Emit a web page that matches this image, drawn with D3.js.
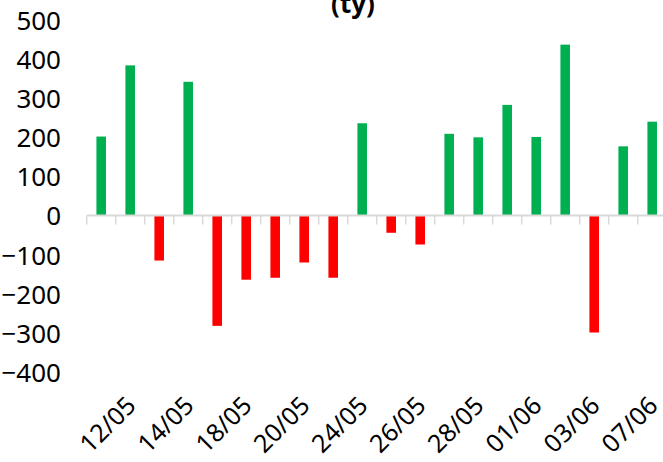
<!DOCTYPE html>
<html>
<head>
<meta charset="utf-8">
<script src="https://cdn.jsdelivr.net/npm/d3@7"></script>
<style>
  html, body { margin: 0; padding: 0; background: #ffffff; }
  svg { display: block; }
  text { font-family: "Noto Sans", "Open Sans", sans-serif; }
</style>
</head>
<body>
<svg id="chart" width="663" height="462"></svg>
<script>
const categories = ["11/05","12/05","13/05","14/05","17/05","18/05","19/05","20/05","21/05","24/05",
                    "25/05","26/05","27/05","28/05","31/05","01/06","02/06","03/06","04/06","07/06"];
const values = [202, 384, -115, 342, -282, -164, -159, -120, -159, 236,
                -44, -74, 209, 200, 283, 201, 437, -299, 177, 240];
const shownLabels = ["12/05","14/05","18/05","20/05","24/05","26/05","28/05","01/06","03/06","07/06"];
const yTicks = [-400, -300, -200, -100, 0, 100, 200, 300, 400, 500];
const titleText = "(ty)";

const FONT = '"Noto Sans", "Open Sans", sans-serif';
const svg = d3.select("#chart");

const x = d3.scaleBand().domain(categories).range([86.7, 666.7]).paddingInner(0.67).paddingOuter(0.335);
const y = d3.scaleLinear().domain([-400, 500]).range([372, 20]);

// title (top partially clipped as in reference)
svg.append("text")
  .attr("x", 353).attr("y", 13)
  .attr("text-anchor", "middle")
  .attr("font-size", 26).attr("font-weight", "bold")
  .attr("fill", "#000")
  .text(titleText);

// y axis labels (no axis line)
const yAxis = d3.axisLeft(y).tickValues(yTicks).tickSize(0).tickPadding(0).tickFormat(d3.format("d"));
const gy = svg.append("g").attr("transform", "translate(61,0)").call(yAxis);
gy.select(".domain").remove();
gy.selectAll("text").attr("font-size", 26).attr("fill", "#000")
  .attr("dy", "0.36em")
  .style("font-family", FONT);

// bars
svg.append("g").selectAll("rect")
  .data(values)
  .join("rect")
  .attr("x", (d, i) => x(categories[i]))
  .attr("width", x.bandwidth())
  .attr("y", d => d >= 0 ? y(d) : y(0))
  .attr("height", d => Math.abs(y(d) - y(0)))
  .attr("fill", d => d >= 0 ? "#00b050" : "#ff0000");

// category axis at zero
const step = x.step();
const x0 = 86.7;
const axisG = svg.append("g");
axisG.append("line")
  .attr("x1", x0).attr("x2", 666.7)
  .attr("y1", y(0)).attr("y2", y(0))
  .attr("stroke", "#d9d9d9").attr("stroke-width", 2);
axisG.selectAll("line.tick")
  .data(d3.range(categories.length + 1))
  .join("line").attr("class", "tick")
  .attr("x1", i => x0 + i * step).attr("x2", i => x0 + i * step)
  .attr("y1", y(0)).attr("y2", y(0) + 9)
  .attr("stroke", "#d9d9d9").attr("stroke-width", 1.5);

// x labels, rotated
svg.append("g").selectAll("text")
  .data(shownLabels)
  .join("text")
  .attr("transform", d => `translate(${x(d) + x.bandwidth() / 2 + 1},${401}) rotate(-45)`)
  .attr("text-anchor", "end")
  .attr("dy", "0.35em")
  .attr("font-size", 25)
  .attr("fill", "#000")
  .text(d => d);
</script>
</body>
</html>
